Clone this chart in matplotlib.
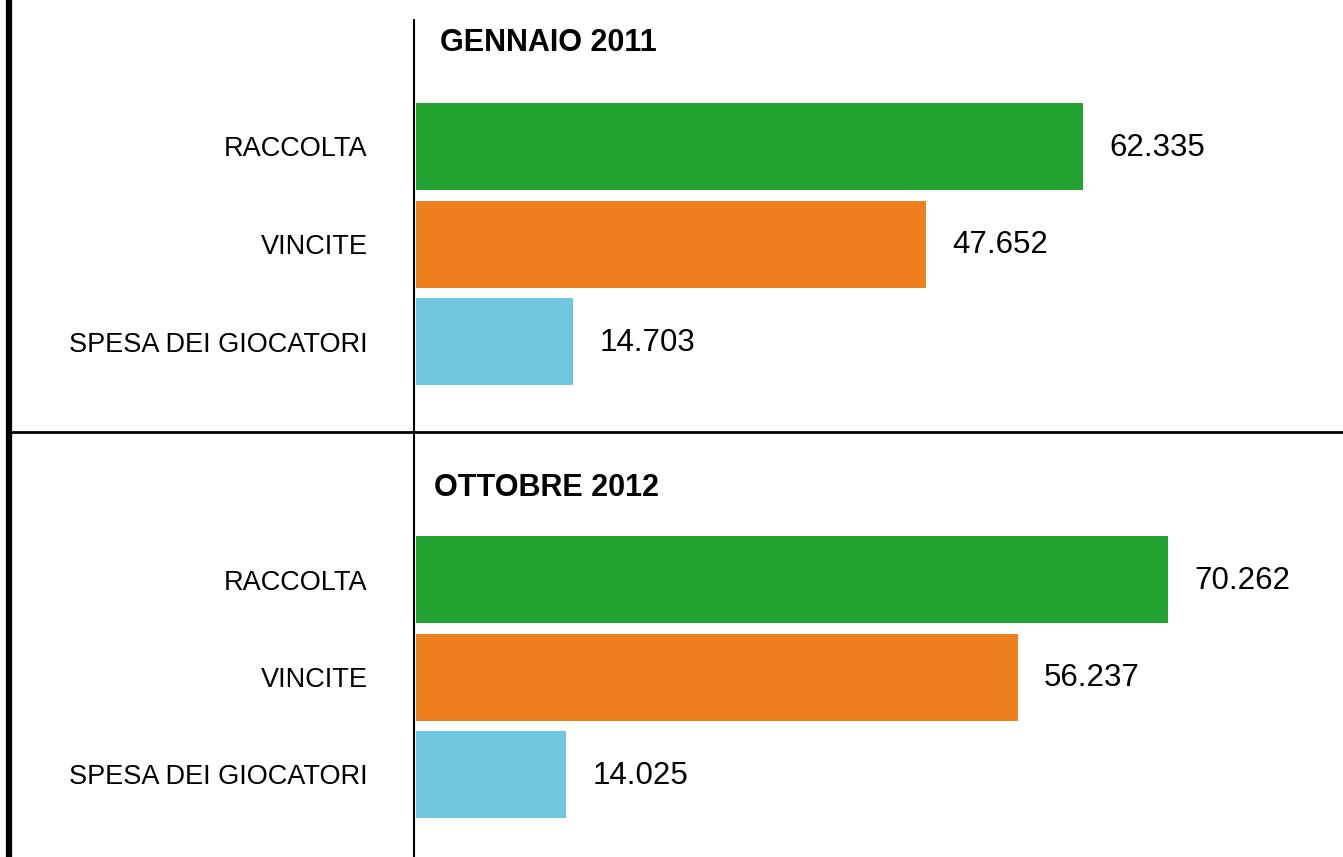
import matplotlib
matplotlib.use("Agg")
import matplotlib.pyplot as plt
from matplotlib.lines import Line2D

# ─── Data ────────────────────────────────────────────────────────────────────
categories = ["RACCOLTA", "VINCITE", "SPESA DEI GIOCATORI"]
periods = ["GENNAIO 2011", "OTTOBRE 2012"]
values_2011 = [62.335, 47.652, 14.703]
values_2012 = [70.262, 56.237, 14.025]
value_labels_2011 = ["62.335", "47.652", "14.703"]
value_labels_2012 = ["70.262", "56.237", "14.025"]
colors = ["#21A231", "#EE7F1E", "#6FC6DF"]

plt.rcParams["font.family"] = ["Liberation Sans", "DejaVu Sans"]

W, H = 1343, 857
fig = plt.figure(figsize=(W / 100, H / 100), dpi=100)

PX_PER_UNIT = 10.70
BAR_X0 = 416
PITCH = 97.5


def panel(y_top, y_bot, first_center, values, labels, title, title_x, title_y):
    left = BAR_X0 / W
    width = (W - BAR_X0) / W
    ax = fig.add_axes([left, 1 - y_bot / H, width, (y_bot - y_top) / H])
    ax.set_xlim(0, (W - BAR_X0) / PX_PER_UNIT)
    ax.set_ylim((y_bot - first_center) / PITCH, (y_top - first_center) / PITCH)
    pos = list(range(len(categories)))
    bars = ax.barh(pos, values, height=87 / PITCH, color=colors)
    for b, lab in zip(bars, labels):
        ax.annotate(lab, (b.get_width(), b.get_y() + b.get_height() / 2),
                    xytext=(19, -1), textcoords="offset points",
                    ha="left", va="center", fontsize=22.5)
    ax.set_yticks(pos)
    ax.set_yticklabels(categories, fontsize=19.5)
    ax.tick_params(axis="y", length=0, pad=35)
    ax.set_xticks([])
    for s in ax.spines.values():
        s.set_visible(False)
    fig.text(title_x / W, 1 - title_y / H, title, fontsize=22, fontweight="bold",
             ha="left", va="center")
    return ax


panel(20, 432, 146.5, values_2011, value_labels_2011, periods[0], 440, 43)
panel(432, 857, 579.5, values_2012, value_labels_2012, periods[1], 434, 488)

# frame lines
fig.add_artist(Line2D([9 / W, 9 / W], [0, 1], transform=fig.transFigure,
                      color="black", lw=4.5))
fig.add_artist(Line2D([414 / W, 414 / W], [0, 1 - 20 / H], transform=fig.transFigure,
                      color="black", lw=1.5))
fig.add_artist(Line2D([9 / W, 1], [1 - 432 / H, 1 - 432 / H], transform=fig.transFigure,
                      color="black", lw=2))

fig.savefig("out.png", dpi=100)
